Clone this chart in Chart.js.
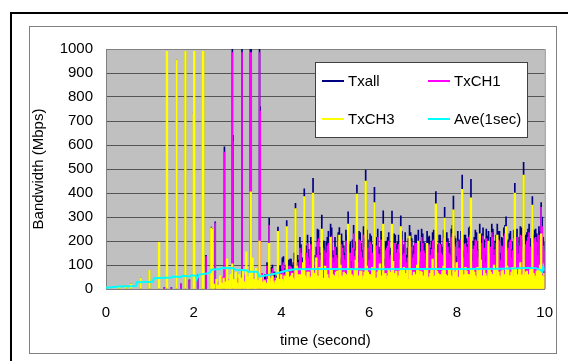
<!DOCTYPE html>
<html>
<head>
<meta charset="utf-8">
<script src="https://cdn.jsdelivr.net/npm/chart.js@4/dist/chart.umd.min.js"></script>
<style>
  html, body { margin: 0; padding: 0; background: #fff; }
  canvas { display: block; }
</style>
</head>
<body>
<canvas id="chart" width="568" height="361"></canvas>
<script>
// series names / colours, in legend order
const seriesNames = ["Txall", "TxCH1", "TxCH3", "Ave(1sec)"];
const seriesColors = ["#000080", "#ff00ff", "#ffff00", "#00ffff"];

// sparse spikes before the busy part, [time (s), Mbps]
const txallEarly = [
  [0.30, 8], [0.45, 12], [0.57, 22], [0.79, 45], [0.99, 78], [1.21, 197], [1.33, 6],
  [1.39, 990], [1.49, 6], [1.61, 955], [1.71, 22], [1.81, 990], [1.90, 38], [2.00, 735],
  [2.01, 990], [2.09, 58], [2.20, 990], [2.22, 990], [2.28, 140], [2.40, 258], [2.42, 252],
  [2.49, 280], [2.70, 592], [2.88, 1010], [2.895, 640], [3.10, 1010], [3.29, 1010],
  [3.31, 1010], [3.50, 1010], [3.515, 760]
];
const ch1Early = [
  [1.33, 5], [1.49, 5], [1.71, 20], [1.90, 35], [2.09, 55], [2.28, 135], [2.49, 275],
  [2.54, 30], [2.62, 20], [2.66, 50], [2.70, 570], [2.78, 40], [2.88, 985], [2.895, 615],
  [2.96, 35], [3.02, 45], [3.10, 985], [3.14, 60], [3.18, 20], [3.29, 985], [3.31, 985],
  [3.36, 70], [3.44, 25], [3.50, 985], [3.515, 740], [3.56, 65]
];
const ch3Early = [
  [0.30, 8], [0.45, 12], [0.57, 22], [0.79, 45], [0.99, 78], [1.21, 195], [1.39, 990],
  [1.61, 955], [1.81, 990], [2.00, 730], [2.01, 990], [2.20, 990], [2.22, 990], [2.40, 255],
  [2.42, 250], [2.46, 20], [2.52, 40], [2.56, 15], [2.60, 55], [2.64, 25], [2.68, 45],
  [2.72, 30], [2.76, 125], [2.80, 35], [2.84, 60], [2.88, 105], [2.92, 40], [2.96, 70],
  [3.00, 25], [3.04, 60], [3.08, 45], [3.12, 75], [3.16, 30], [3.20, 155], [3.24, 50],
  [3.28, 65], [3.30, 405], [3.34, 130], [3.38, 40], [3.42, 85], [3.46, 35], [3.50, 200],
  [3.54, 55], [3.58, 30]
];

// busy part: samples every 0.05 s from 3.62 s ...
const denseStart = 3.62;
const denseStep = 0.05;
const txallDense = [
  60, 110, 295, 90, 70, 40, 258, 95, 130, 85, 285, 120, 125, 110, 357, 140,
  215, 130, 417, 180, 165, 215, 461, 140, 250, 175, 308, 200, 195, 240, 271, 160,
  215, 170, 256, 230, 180, 245, 322, 195, 205, 165, 433, 240, 190, 260, 496, 205,
  230, 185, 424, 215, 175, 240, 326, 195, 215, 160, 325, 230, 185, 225, 305, 175,
  235, 170, 265, 210, 180, 225, 246, 195, 230, 190, 240, 220, 200, 245, 406, 185,
  225, 175, 340, 235, 190, 250, 387, 210, 240, 200, 475, 225, 210, 255, 457, 200,
  245, 195, 270, 230, 205, 250, 240, 215, 250, 200, 271, 240, 215, 255, 301, 205,
  240, 195, 440, 250, 215, 255, 528, 225, 250, 210, 385, 245, 230, 260, 360, 215
];
const ch1Dense = [
  40, 95, 265, 70, 50, 25, 60, 70, 100, 60, 90, 95, 90, 80, 120, 110,
  170, 95, 140, 150, 130, 185, 150, 110, 195, 140, 180, 160, 150, 190, 200, 130,
  175, 130, 190, 185, 140, 200, 210, 150, 170, 135, 200, 205, 155, 225, 240, 170,
  195, 150, 180, 180, 145, 205, 150, 160, 180, 125, 190, 190, 150, 185, 170, 140,
  195, 130, 160, 175, 145, 190, 180, 155, 190, 150, 170, 185, 165, 205, 190, 150,
  185, 140, 200, 195, 150, 215, 220, 175, 200, 165, 230, 185, 175, 215, 200, 165,
  205, 160, 220, 190, 170, 210, 190, 175, 215, 165, 225, 200, 180, 220, 240, 170,
  205, 160, 230, 215, 180, 220, 250, 185, 215, 175, 240, 210, 195, 225, 340, 180
];
const ch3Dense = [
  35, 20, 190, 45, 30, 35, 240, 40, 40, 55, 260, 50, 55, 45, 335, 60,
  60, 80, 385, 45, 70, 50, 400, 65, 55, 90, 250, 40, 85, 45, 215, 60,
  50, 75, 225, 55, 70, 60, 270, 85, 55, 80, 395, 50, 75, 55, 450, 70,
  60, 90, 360, 45, 80, 50, 270, 65, 55, 70, 270, 60, 75, 55, 260, 85,
  50, 80, 220, 55, 70, 60, 200, 75, 55, 85, 190, 50, 80, 50, 355, 65,
  60, 75, 295, 55, 85, 55, 330, 70, 50, 80, 415, 60, 75, 60, 380, 85,
  55, 90, 230, 50, 80, 55, 200, 70, 60, 85, 225, 55, 75, 50, 260, 80,
  55, 90, 400, 60, 85, 55, 475, 70, 60, 80, 350, 55, 75, 60, 230, 50
];
// ... and the samples half way between them
const txallMid = [
  60, 85, 45, 100, 70, 55, 95, 80, 135, 100, 75, 125, 100, 150, 105, 120,
  185, 120, 150, 225, 130, 195, 100, 175, 245, 150, 200, 125, 215, 160, 255, 140,
  175, 235, 130, 200, 150, 225, 185, 115, 265, 195, 140, 235, 160, 210, 245, 155,
  220, 135, 190, 250, 165, 215, 125, 200, 235, 170, 150, 225, 195, 150, 240, 185,
  140, 210, 235, 160, 225, 185, 115, 250, 195, 150, 215, 170, 235, 200, 140, 225,
  185, 245, 150, 210, 170, 265, 220, 135, 205, 240, 160, 225, 185, 260, 145, 215,
  235, 165, 210, 255, 140, 220, 185, 270, 170, 225, 240, 150, 210, 265, 195, 230,
  165, 245, 215, 180, 260, 205, 150, 235, 270, 185, 225, 250, 175, 240, 300, 195
];
const ch1Mid = [
  30, 60, 20, 85, 45, 30, 70, 50, 110, 75, 40, 95, 70, 120, 60, 90,
  150, 80, 120, 190, 100, 160, 70, 140, 210, 120, 170, 90, 180, 130, 220, 110,
  140, 200, 95, 170, 120, 190, 150, 85, 230, 160, 110, 200, 130, 175, 210, 120,
  185, 100, 160, 215, 130, 180, 95, 170, 200, 140, 115, 190, 165, 120, 205, 150,
  110, 175, 200, 130, 190, 150, 85, 215, 160, 120, 180, 140, 200, 165, 110, 190,
  150, 210, 120, 175, 140, 230, 185, 100, 170, 205, 130, 190, 150, 225, 115, 180,
  200, 130, 175, 220, 110, 185, 150, 235, 140, 190, 205, 120, 175, 230, 160, 195,
  130, 210, 180, 145, 225, 170, 120, 200, 235, 150, 190, 215, 140, 205, 260, 160
];
const ch3Mid = [
  25, 40, 30, 55, 20, 45, 35, 60, 30, 50, 70, 40, 65, 35, 95, 50,
  45, 110, 55, 70, 40, 85, 60, 130, 50, 75, 45, 95, 60, 40, 80, 55,
  70, 45, 100, 50, 65, 40, 85, 60, 45, 120, 55, 75, 40, 70, 95, 60,
  50, 85, 45, 70, 105, 55, 60, 40, 80, 50, 115, 65, 45, 75, 55, 90,
  65, 40, 80, 55, 45, 100, 60, 70, 50, 85, 40, 65, 125, 55, 75, 45,
  55, 95, 60, 45, 80, 50, 70, 110, 45, 65, 55, 90, 60, 40, 85, 70,
  45, 75, 120, 55, 65, 40, 85, 60, 100, 50, 70, 45, 80, 60, 95, 55,
  70, 50, 85, 45, 110, 60, 55, 75, 45, 90, 65, 50, 80, 100, 55, 65
];

// 1 second running average
const aveTimes = [
  0, 0.30, 0.68, 0.70, 1.07, 1.09, 1.49, 1.51, 1.70, 1.75, 1.90, 1.95, 2.05, 2.07, 2.12,
  2.30, 2.38, 2.40, 2.60, 2.65, 2.90, 2.95, 3.20, 3.25, 3.45, 3.50, 3.70, 3.90, 4.10,
  4.30, 5.00, 6.00, 7.00, 8.00, 9.00, 9.40, 9.60, 9.80, 9.90, 9.94, 9.97, 10.0
];
const aveValues = [
  5, 10, 12, 28, 30, 45, 48, 52, 50, 55, 52, 57, 55, 42, 60,
  65, 70, 80, 83, 88, 86, 80, 78, 72, 72, 52, 58, 66, 76,
  82, 83, 82, 83, 83, 84, 86, 88, 87, 80, 72, 95, 75
];

function toPoints(early, dense, mid) {
  const pts = early.map(([x, y]) => ({ x: x, y: y }));
  dense.forEach((y, i) => pts.push({ x: denseStart + i * denseStep, y: y }));
  mid.forEach((y, i) => pts.push({ x: denseStart + (i + 0.5) * denseStep, y: y }));
  return pts.sort((a, b) => a.x - b.x);
}

const txallPoints = toPoints(txallEarly, txallDense, txallMid);
const ch1Points = toPoints(ch1Early, ch1Dense, ch1Mid);
const ch3Points = toPoints(ch3Early, ch3Dense, ch3Mid);
const avePoints = aveTimes.map((t, i) => ({ x: t, y: aveValues[i] }));

Chart.defaults.font.family = "'Liberation Sans', Arial, sans-serif";
Chart.defaults.font.size = 15;
Chart.defaults.color = "#000";

// page frame, plot background and right edge of the plot
const frame = {
  id: "frame",
  beforeDraw(chart) {
    const { ctx, chartArea: a } = chart;
    ctx.save();
    ctx.fillStyle = "#fff";
    ctx.fillRect(0, 0, chart.width, chart.height);
    ctx.fillStyle = "#000";
    ctx.fillRect(10, 12, chart.width - 10, 2);
    ctx.fillRect(10, 12, 2, chart.height - 12);
    ctx.strokeStyle = "#808080";
    ctx.lineWidth = 1;
    ctx.strokeRect(29.5, 26.5, 527, 327);
    ctx.fillStyle = "#c0c0c0";
    ctx.fillRect(a.left, a.top, a.right - a.left, a.bottom - a.top);
    ctx.restore();
  },
  afterDatasetsDraw(chart) {
    const { ctx, chartArea: a } = chart;
    ctx.save();
    ctx.strokeStyle = "#808080";
    ctx.lineWidth = 1;
    ctx.beginPath();
    ctx.moveTo(a.right + 0.5, a.top);
    ctx.lineTo(a.right + 0.5, a.bottom);
    ctx.stroke();
    ctx.restore();
  }
};

// legend box inside the plot, two columns
const legendBox = {
  id: "legendBox",
  afterDraw(chart) {
    const { ctx, chartArea: a } = chart;
    const bx = a.left + 209, by = a.top + 13, bw = 213, bh = 76;
    ctx.save();
    ctx.fillStyle = "#fff";
    ctx.fillRect(bx, by, bw, bh);
    ctx.strokeStyle = "#404040";
    ctx.lineWidth = 1;
    ctx.strokeRect(bx + 0.5, by + 0.5, bw - 1, bh - 1);
    ctx.font = "15px 'Liberation Sans', Arial, sans-serif";
    ctx.textBaseline = "middle";
    ctx.fillStyle = "#000";
    seriesNames.forEach((name, i) => {
      const lx = bx + 7 + (i % 2) * 106;
      const ly = by + 19 + Math.floor(i / 2) * 38;
      ctx.strokeStyle = seriesColors[i];
      ctx.lineWidth = 2;
      ctx.beginPath();
      ctx.moveTo(lx, ly);
      ctx.lineTo(lx + 22, ly);
      ctx.stroke();
      ctx.fillText(name, lx + 26, ly + 1);
    });
    ctx.restore();
  }
};

const ctx = document.getElementById("chart").getContext("2d");

new Chart(ctx, {
  type: "bar",
  data: {
    datasets: [
      {
        type: "line",
        label: seriesNames[3],
        data: avePoints,
        borderColor: seriesColors[3],
        borderWidth: 2,
        pointRadius: 0,
        tension: 0,
        order: 0
      },
      {
        label: seriesNames[2],
        data: ch3Points,
        backgroundColor: seriesColors[2],
        barThickness: 1.7,
        grouped: false,
        order: 1
      },
      {
        label: seriesNames[1],
        data: ch1Points,
        backgroundColor: seriesColors[1],
        barThickness: 1,
        grouped: false,
        order: 2
      },
      {
        label: seriesNames[0],
        data: txallPoints,
        backgroundColor: seriesColors[0],
        barThickness: 1,
        grouped: false,
        order: 3
      }
    ]
  },
  options: {
    responsive: false,
    animation: false,
    layout: { padding: { top: 49, right: 22, left: 0, bottom: 0 } },
    plugins: {
      legend: { display: false },
      tooltip: { enabled: false }
    },
    scales: {
      x: {
        type: "linear",
        min: 0,
        max: 10,
        offset: false,
        grid: { display: false, drawTicks: false },
        border: { color: "#808080" },
        ticks: { stepSize: 2, padding: 15, maxRotation: 0 },
        title: { display: true, text: "time (second)", padding: { top: 0, bottom: 11 } },
        afterFit: (scale) => { scale.height = 72; }
      },
      y: {
        min: 0,
        max: 1000,
        grid: {
          drawTicks: false,
          color: (c) => (c.tick && c.tick.value === 1000 ? "#808080" : "#555")
        },
        border: { color: "#808080" },
        ticks: { stepSize: 100, padding: 13, callback: (v) => String(v) },
        title: { display: true, text: "Bandwidth (Mbps)", padding: { top: 30, bottom: 0 } },
        afterFit: (scale) => { scale.width = 106; }
      }
    }
  },
  plugins: [frame, legendBox]
});
</script>
</body>
</html>
